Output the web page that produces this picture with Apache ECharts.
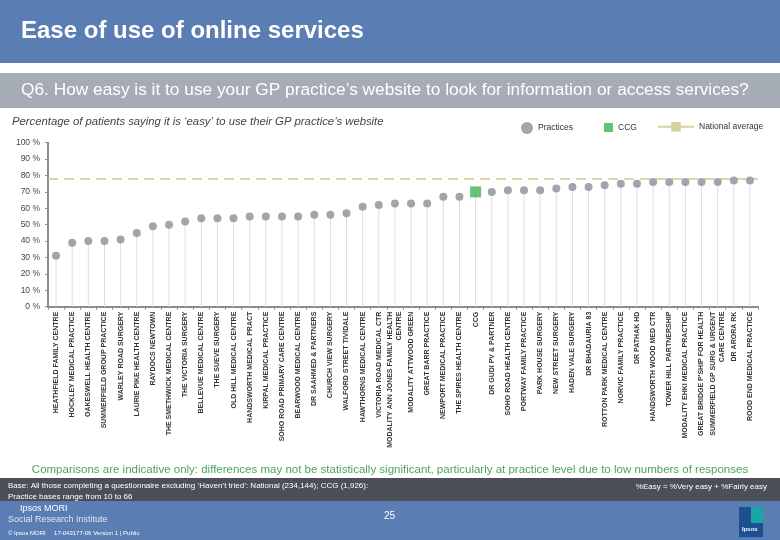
<!DOCTYPE html>
<html><head><meta charset="utf-8">
<script src="https://cdn.jsdelivr.net/npm/echarts@6/dist/echarts.min.js"></script>
<style>html,body{margin:0;padding:0;background:#fff}#c{width:780px;height:540px}</style>
</head><body><div id="c"></div>
<script>
const categories = [
 "HEATHFIELD FAMILY CENTRE","HOCKLEY MEDICAL PRACTICE","OAKESWELL HEALTH CENTRE","SUMMERFIELD GROUP PRACTICE",
 "WARLEY ROAD SURGERY","LAURIE PIKE HEALTH CENTRE","RAYDOCS NEWTOWN","THE SMETHWICK MEDICAL CENTRE",
 "THE VICTORIA SURGERY","BELLEVUE MEDICAL CENTRE","THE SUEVE SURGERY","OLD HILL MEDICAL CENTRE",
 "HANDSWORTH MEDICAL PRACT","KIRPAL MEDICAL PRACTICE","SOHO ROAD PRIMARY CARE CENTRE","BEARWOOD MEDICAL CENTRE",
 "DR SAAHMED & PARTNERS","CHURCH VIEW SURGERY","WALFORD STREET TIVIDALE","HAWTHORNS MEDICAL CENTRE",
 "VICTORIA ROAD MEDICAL CTR","MODALITY ANN JONES FAMILY HEALTH\nCENTRE","MODALITY ATTWOOD GREEN","GREAT BARR PRACTICE",
 "NEWPORT MEDICAL PRACTICE","THE SPIRES HEALTH CENTRE","CCG","DR GUDI PV & PARTNER",
 "SOHO ROAD HEALTH CENTRE","PORTWAY FAMILY PRACTICE","PARK HOUSE SURGERY","NEW STREET SURGERY",
 "HADEN VALE SURGERY","DR BHADAURIA 83","ROTTON PARK MEDICAL CENTRE","NORVIC FAMILY PRACTICE",
 "DR PATHAK HD","HANDSWORTH WOOD MED CTR","TOWER HILL PARTNERSHIP","MODALITY EHKI MEDICAL PRACTICE",
 "GREAT BRIDGE P'SHIP FOR HEALTH","SUMMERFIELD GP SURG & URGENT\nCARE CENTRE","DR ARORA RK","ROOD END MEDICAL PRACTICE"
];
const values = [31,39,40,40,41,45,49,50,52,54,54,54,55,55,55,55,56,56,57,61,62,63,63,63,67,67,70,70,71,71,71,72,73,73,74,75,75,76,76,76,76,76,77,77];
const ccgName = "CCG";
const nationalAverage = 78;
const yTicks = [0,10,20,30,40,50,60,70,80,90,100];

const practiceData = categories.map((c,i)=> c===ccgName ? '-' : values[i]);
const ccgData = categories.map((c,i)=> c===ccgName ? values[i] : '-');

const chart = echarts.init(document.getElementById('c'), null, {renderer:'canvas'});
const FONT = "'Liberation Sans', Arial, sans-serif";
chart.setOption({
  animation:false,
  backgroundColor:'#fff',
  textStyle:{fontFamily:FONT},
  grid:{left:48, width:710, top:142.7, height:164},
  xAxis:{type:'category', data:categories,
    axisLine:{lineStyle:{color:'#8c8c8c', width:2}},
    axisTick:{show:true, length:3, lineStyle:{color:'#8c8c8c'}},
    axisLabel:{rotate:90, interval:0, fontSize:7, fontWeight:'bold', color:'#333', margin:5, lineHeight:9, align:'right', verticalAlign:'middle'}},
  yAxis:{type:'value', min:0, max:100, interval:10,
    axisLine:{show:true, lineStyle:{color:'#8c8c8c', width:2}},
    axisTick:{show:true, length:3, lineStyle:{color:'#8c8c8c'}},
    splitLine:{show:false},
    axisLabel:{formatter: v => yTicks.includes(v) ? v + ' %' : '', fontSize:8.5, color:'#444', margin:8}},
  legend:[
    {data:[{name:'Practices', icon:'circle'}], left:516, top:117, itemWidth:12, itemHeight:12, textStyle:{fontSize:8.5, color:'#333'}, itemGap:5},
    {data:[{name:'CCG', icon:'rect'}], left:599, top:118, itemWidth:9, itemHeight:9, textStyle:{fontSize:8.5, color:'#333'}},
    {data:[{name:'National average'}], left:652, top:117, itemWidth:36, itemHeight:12, textStyle:{fontSize:8.5, color:'#333'}}
  ],
  series:[
    {name:'stems', type:'bar', data:values, barWidth:1, itemStyle:{color:'#dedede'}, silent:true, z:1},
    {name:'National average', type:'line', data:[], symbol:'rect', symbolSize:[10,4],
      itemStyle:{color:'#d4d49a'}, lineStyle:{color:'#d4d49a', width:2},
      markLine:{symbol:'none', silent:true, label:{show:false},
        lineStyle:{color:'#cccc90', type:[10,6], width:1.5},
        data:[{yAxis:nationalAverage}]}, z:3},
    {name:'Practices', type:'scatter', data:practiceData, symbol:'circle', symbolSize:8,
      itemStyle:{color:'#8b9096'}, z:5},
    {name:'CCG', type:'scatter', data:ccgData, symbol:'rect', symbolSize:11,
      itemStyle:{color:'#3cb454'}, z:6}
  ],
  graphic:[
    {type:'rect', shape:{x:0,y:0,width:780,height:63}, style:{fill:'#5a7db4'}, z:-1},
    {type:'text', left:21, top:19, style:{text:'Ease of use of online services', fill:'#fff', font:'bold 24px '+FONT}},
    {type:'rect', shape:{x:0,y:73,width:780,height:35}, style:{fill:'#a5acb6'}, z:-1},
    {type:'text', left:21, top:82, style:{text:'Q6. How easy is it to use your GP practice\u2019s website to look for information or access services?', fill:'#fff', font:'17.3px '+FONT}},
    {type:'text', left:12, top:116, style:{text:'Percentage of patients saying it is \u2018easy\u2019 to use their GP practice\u2019s website', fill:'#444', font:'italic 11.3px '+FONT}},
    {type:'text', left:'center', top:464, style:{text:'Comparisons are indicative only: differences may not be statistically significant, particularly at practice level due to low numbers of responses', fill:'#4ea35c', font:'11.5px '+FONT}},
    {type:'rect', shape:{x:0,y:478,width:780,height:23}, style:{fill:'#4b5058'}, z:-1},
    {type:'text', left:8, top:480, style:{text:'Base: All those completing a questionnaire excluding \u2018Haven\u2019t tried\u2019: National (234,144); CCG (1,926):\nPractice bases range from 10 to 66', fill:'#fff', font:'8px '+FONT, lineHeight:11}},
    {type:'text', right:13, top:483, style:{text:'%Easy = %Very easy + %Fairly easy', fill:'#fff', font:'8px '+FONT}},
    {type:'rect', shape:{x:0,y:501,width:780,height:39}, style:{fill:'#5a7db4'}, z:-1},
    {type:'text', left:20, top:504, style:{text:'Ipsos MORI', fill:'#fff', font:'9px '+FONT}},
    {type:'text', left:8, top:515, style:{text:'Social Research Institute', fill:'#dfe6f2', font:'9px '+FONT}},
    {type:'text', left:8, top:530, style:{text:'\u00a9 Ipsos MORI     17-043177-06 Version 1 | Public', fill:'#fff', font:'6px '+FONT}},
    {type:'text', left:384, top:511, style:{text:'25', fill:'#fff', font:'10px '+FONT}},
    {type:'rect', shape:{x:739,y:507,width:24,height:30}, style:{fill:'#1d4f91'}},
    {type:'rect', shape:{x:751,y:507,width:12,height:16}, style:{fill:'#1aa5a8'}},
    {type:'text', left:742, top:526, style:{text:'Ipsos', fill:'#fff', font:'bold 6px '+FONT}}
  ]
});
</script></body></html>
